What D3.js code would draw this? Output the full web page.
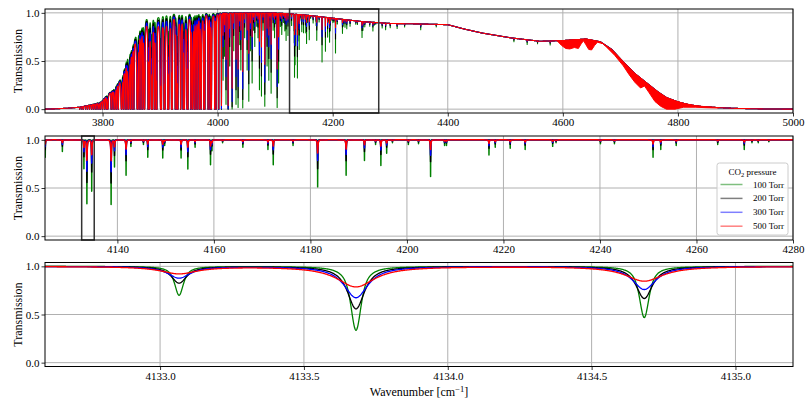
<!DOCTYPE html>
<html>
<head>
<meta charset="utf-8">
<script src="https://cdn.jsdelivr.net/npm/d3@7"></script>
<style>
  body { margin: 0; background: #fff; }
  #chart, #chart text { font-family: "Liberation Serif", "Times New Roman", Times, "DejaVu Serif", serif; }
</style>
</head>
<body>
<svg id="chart" width="805" height="401" font-family="Liberation Serif"></svg>
<script>
// ---- data ----
var pressures = [100, 200, 300, 500];
var seriesLabels = ["100 Torr", "200 Torr", "300 Torr", "500 Torr"];
var seriesColors = ["green", "black", "blue", "red"];
var serif = "Liberation Serif, Times New Roman, DejaVu Serif, serif";

// instrument envelope of the wide panel (upper edge of the traces)
var envNu = [3700, 3720, 3740, 3760, 3786, 3798, 3809, 3818, 3827, 3835,
             3844, 3850, 3858, 3867, 3876, 3888, 3899, 3908, 3950, 4000,
             4100, 4150, 4200, 4250, 4300, 4350, 4400, 4430, 4460, 4510,
             4560, 4600, 4640, 4665, 4685, 4705, 4725, 4745, 4765, 4780,
             4800, 4820, 4840, 4870, 4900, 4950, 5000];
var envT = [0, 0.004, 0.01, 0.02, 0.055, 0.08, 0.16, 0.2, 0.28, 0.36,
            0.57, 0.62, 0.78, 0.85, 0.95, 0.96, 0.98, 1.0, 1.0, 1.0,
            1.0, 0.98, 0.945, 0.91, 0.89, 0.885, 0.877, 0.83, 0.79, 0.74,
            0.705, 0.712, 0.728, 0.70, 0.62, 0.49, 0.37, 0.275, 0.18, 0.12,
            0.075, 0.045, 0.028, 0.016, 0.008, 0.002, 0];

// lower edge of the dense band only seen in the 500 Torr trace
var redBandNu = [4590, 4598, 4605, 4612, 4620, 4627, 4632, 4636, 4640, 4645,
                 4650, 4655, 4660, 4670, 4690, 4705, 4715, 4725, 4735, 4742,
                 4750, 4760, 4770, 4780, 4795, 4810, 4830, 4850, 4870];
var redBandT = [0.71, 0.66, 0.63, 0.625, 0.64, 0.63, 0.68, 0.71, 0.67, 0.62,
                0.615, 0.66, 0.695, 0.68, 0.56, 0.45, 0.36, 0.28, 0.22, 0.24,
                0.17, 0.08, 0.03, 0, 0, 0.02, 0.02, 0.015, 0.012];

// absorption lines: [wavenumber, peak optical depth at 100 Torr]
var bandLines = [
  [3760.5, 40], [3764.2, 25], [3767.0, 60], [3770.8, 30], [3774.1, 90], [3777.5, 45], [3780.9, 110],
  [3784.0, 35], [3787.2, 130], [3790.4, 50], [3793.8, 400], [3796.9, 40], [3800.2, 120], [3803.6, 70],
  [3806.5, 30], [3809.0, 600], [3815.0, 100], [3818.3, 45], [3821.5, 500], [3824.6, 60], [3827.5, 90],
  [3833.0, 800], [3836.2, 50], [3839.4, 120], [3842.4, 70], [3845.5, 900], [3848.8, 40], [3851.6, 100],
  [3854.5, 60], [3860.5, 1000], [3863.6, 45], [3866.8, 110], [3869.9, 70], [3873.0, 600], [3879.2, 130],
  [3881.0, 300], [3885.0, 700], [3886.6, 40], [3890.0, 120], [3893.1, 600], [3894.4, 35], [3901.0, 900],
  [3902.5, 60], [3907.0, 110], [3908.3, 400], [3913.2, 30], [3914.8, 800], [3919.9, 200], [3921.2, 110],
  [3926.4, 35], [3929.4, 700], [3930.9, 80], [3935.8, 250], [3940.0, 50], [3942.1, 600], [3947.0, 300],
  [3948.5, 100], [3953.4, 30], [3956.2, 500], [3959.4, 60], [3962.4, 150], [3965.6, 90], [3968.8, 40],
  [3971.5, 300], [3976.0, 80], [3977.8, 50], [3983.5, 120], [3986.8, 30], [3989.2, 200], [3994.8, 40],
  [3997.2, 60], [4002.0, 25], [4006.7, 15], [4009.5, 1.2], [4012.0, 0.6], [4014.6, 3], [4018.3, 15],
  [4021.0, 0.8], [4025.2, 7], [4028.0, 0.5], [4032.0, 3], [4035.6, 4], [4038.5, 0.4], [4040.4, 0.9],
  [4043.7, 4.3], [4047.0, 0.3], [4051.3, 0.9], [4054.2, 2.5], [4057.0, 0.5], [4060.0, 1.3], [4062.3, 0.2],
  [4064.6, 0.43], [4068.0, 0.15], [4070.2, 0.3], [4072.7, 1.6], [4076.2, 2.0], [4079.0, 0.2], [4082.0, 3.5],
  [4086.0, 0.8], [4089.0, 1.2], [4091.2, 0.15], [4093.0, 1.8], [4096.5, 0.2], [4099.0, 0.3],
  [4101.0, 0.12], [4103.5, 4], [4106.0, 1.3], [4109.0, 0.15], [4111.5, 0.25], [4114.3, 0.1],
  [4116.8, 0.2], [4119.0, 0.33], [4122.3, 0.26], [4124.0, 0.08]
];
var wingLines = [
  [4125.05, 0.20], [4128.6, 0.13], [4133.066, 0.357], [4133.681, 1.09], [4134.683, 0.76],
  [4138.7, 1.11], [4139.4, 0.33], [4141.8, 0.46], [4142.8, 0.07], [4145.4, 0.05], [4146.3, 0.20],
  [4149.4, 0.21], [4149.8, 0.06], [4153.2, 0.21], [4154.6, 0.36], [4156.1, 0.08], [4159.3, 0.30],
  [4159.6, 0.12], [4161.8, 0.03], [4166.0, 0.08], [4171.2, 0.105], [4172.3, 0.30], [4176.4, 0.06],
  [4181.5, 0.67], [4187.4, 0.46], [4191.2, 0.24], [4193.5, 0.05], [4194.6, 0.31], [4195.8, 0.15],
  [4197.0, 0.03], [4200.3, 0.05], [4202.4, 0.04], [4204.9, 0.48], [4207.8, 0.06], [4208.2, 0.06],
  [4217.0, 0.17], [4218.3, 0.08], [4221.4, 0.09], [4224.5, 0.105], [4230.2, 0.07], [4230.9, 0.03],
  [4240.1, 0.04], [4243.0, 0.04], [4251.0, 0.20], [4252.6, 0.105], [4255.8, 0.06], [4264.4, 0.05],
  [4269.9, 0.105], [4271.5, 0.03], [4272.8, 0.03], [4275.0, 0.02]
];
var weakLines = [
  [4286, 0.06], [4292, 0.08], [4300, 0.05], [4312, 0.06], [4325, 0.04], [4353, 0.07],
  [4380, 0.03], [4515, 0.05], [4538, 0.07], [4556, 0.04], [4578, 0.06]
];

// line shape widths (cm-1, FWHM)
var dopplerFWHM = 0.012;
var lorentzFWHM100 = 0.030;

// ---- layout ----
var svg = d3.select("#chart");
var plotLeft = 45, plotRight = 793;
var yDomain = [-0.04, 1.04];

var panels = [
  {top: 9, bottom: 113, domain: [3700, 5000], ticks: [3800, 4000, 4200, 4400, 4600, 4800, 5000],
   fmt: d3.format("d"), step: 0.25, env: true, box: [4125, 4280], lw: 1.1},
  {top: 136, bottom: 240, domain: [4125, 4280], ticks: [4140, 4160, 4180, 4200, 4220, 4240, 4260, 4280],
   fmt: d3.format("d"), step: 0.02, box: [4132.6, 4135.2], lw: 1.5},
  {top: 262.5, bottom: 366.5, domain: [4132.6, 4135.2], ticks: [4133.0, 4133.5, 4134.0, 4134.5, 4135.0],
   fmt: d3.format(".1f"), step: 0.002, lw: 1.3}
];

// ---- line model ----
function voigtParams(p) {
  var fG = dopplerFWHM, fL = lorentzFWHM100 * p / 100;
  var f = Math.pow(Math.pow(fG, 5) + 2.69269 * Math.pow(fG, 4) * fL + 2.42843 * Math.pow(fG, 3) * fL * fL +
          4.47163 * fG * fG * Math.pow(fL, 3) + 0.07842 * fG * Math.pow(fL, 4) + Math.pow(fL, 5), 0.2);
  var r = fL / f;
  return {f: f, eta: 1.36603 * r - 0.47719 * r * r + 0.11116 * r * r * r};
}
function profile(dx, v) {
  var hw = v.f / 2;
  var L = hw / (Math.PI * (dx * dx + hw * hw));
  var G = (2 / v.f) * Math.sqrt(Math.LN2 / Math.PI) * Math.exp(-4 * Math.LN2 * dx * dx / (v.f * v.f));
  return v.eta * L + (1 - v.eta) * G;
}

var allLines = bandLines.concat(wingLines, weakLines).sort(function(a, b) { return a[0] - b[0]; });
var lineNus = allLines.map(function(d) { return d[0]; });
var peakRef = profile(0, voigtParams(100));
var areas = allLines.map(function(d) { return d[1] / peakRef; });
var bis = d3.bisector(function(d) { return d; }).left;

function transmission(nus, p) {
  var v = voigtParams(p), cut = 8;
  return nus.map(function(nu) {
    var i0 = bis(lineNus, nu - cut), i1 = bis(lineNus, nu + cut), tau = 0;
    for (var i = i0; i < i1; i++) tau += areas[i] * profile(nu - lineNus[i], v);
    return Math.exp(-tau);
  });
}

var env = d3.scaleLinear().domain(envNu).range(envT).clamp(true);

function serifText(sel, size) {
  return sel.attr("font-family", serif).style("font-family", serif).style("font-size", size);
}

panels.forEach(function(P, pi) {
  var x = d3.scaleLinear().domain(P.domain).range([plotLeft, plotRight]);
  var y = d3.scaleLinear().domain(yDomain).range([P.bottom, P.top]);
  var g = svg.append("g");

  g.append("clipPath").attr("id", "clip" + pi)
    .append("rect").attr("x", plotLeft).attr("y", P.top)
    .attr("width", plotRight - plotLeft).attr("height", P.bottom - P.top);

  // grid
  g.selectAll(".gx").data(P.ticks).enter().append("line")
    .attr("x1", function(d) { return x(d); }).attr("x2", function(d) { return x(d); })
    .attr("y1", P.top).attr("y2", P.bottom)
    .style("stroke", "#b0b0b0").style("stroke-width", 1);
  g.selectAll(".gy").data([0, 0.5, 1]).enter().append("line")
    .attr("y1", function(d) { return y(d); }).attr("y2", function(d) { return y(d); })
    .attr("x1", plotLeft).attr("x2", plotRight)
    .style("stroke", "#b0b0b0").style("stroke-width", 1);

  // sample points: a regular grid plus every line centre in range
  var n = Math.round((P.domain[1] - P.domain[0]) / P.step);
  var nus = d3.range(n + 1).map(function(i) { return P.domain[0] + i * P.step; });
  lineNus.forEach(function(c) { if (c > P.domain[0] && c < P.domain[1]) nus.push(c); });
  nus.sort(function(a, b) { return a - b; });

  var traces = g.append("g").attr("clip-path", "url(#clip" + pi + ")");
  pressures.forEach(function(p, si) {
    var T = transmission(nus, p);
    var pts = nus.map(function(nu, i) { return [nu, P.env ? env(nu) * T[i] : T[i]]; });
    if (P.env && si === 3) {
      var band = redBandNu.map(function(nu, i) { return [nu, redBandT[i]]; });
      traces.append("path").datum(band)
        .attr("d", d3.area().x(function(d) { return x(d[0]); })
          .y0(function(d) { return y(d[1]); })
          .y1(function(d) { return y(env(d[0])); }))
        .style("fill", "red").style("stroke", "red").style("stroke-width", 1);
    }
    traces.append("path").datum(pts)
      .attr("d", d3.line().x(function(d) { return x(d[0]); }).y(function(d) { return y(d[1]); }))
      .style("fill", "none").style("stroke", seriesColors[si])
      .style("stroke-width", P.lw).style("stroke-linejoin", "round");
  });

  // zoom window box
  if (P.box) {
    g.append("rect").attr("x", x(P.box[0])).attr("y", P.top)
      .attr("width", x(P.box[1]) - x(P.box[0])).attr("height", P.bottom - P.top)
      .style("fill", "none").style("stroke", "#333").style("stroke-width", 1.5);
  }

  // frame
  g.append("rect").attr("x", plotLeft).attr("y", P.top)
    .attr("width", plotRight - plotLeft).attr("height", P.bottom - P.top)
    .style("fill", "none").style("stroke", "#000").style("stroke-width", 1);

  var xAxis = g.append("g").attr("transform", "translate(0," + P.bottom + ")")
    .call(d3.axisBottom(x).tickValues(P.ticks).tickFormat(P.fmt).tickSize(3.5).tickPadding(2));
  var yAxis = g.append("g").attr("transform", "translate(" + plotLeft + ",0)")
    .call(d3.axisLeft(y).tickValues([0, 0.5, 1]).tickFormat(d3.format(".1f")).tickSize(3.5).tickPadding(2));
  [xAxis, yAxis].forEach(function(a) {
    a.attr("font-family", serif);
    a.select(".domain").remove();
    a.selectAll(".tick line").style("stroke", "#000").style("stroke-width", 0.8);
    serifText(a.selectAll(".tick text"), "11px").style("fill", "#000");
  });

  serifText(g.append("text"), "12px")
    .attr("transform", "translate(18," + ((P.top + P.bottom) / 2) + ") rotate(-90)")
    .attr("text-anchor", "middle").attr("dominant-baseline", "central")
    .text("Transmission");
});

// x label
var xl = serifText(svg.append("text"), "12px")
  .attr("x", (plotLeft + plotRight) / 2).attr("y", 396).attr("text-anchor", "middle");
xl.append("tspan").text("Wavenumber [cm");
xl.append("tspan").attr("dy", -4).style("font-size", "8.5px").text("\u22121");
xl.append("tspan").attr("dy", 4).text("]");

// legend
var lg = svg.append("g");
lg.append("rect").attr("x", 717).attr("y", 163).attr("width", 71).attr("height", 72)
  .attr("rx", 2.5).style("fill", "#fff").style("fill-opacity", 0.8)
  .style("stroke", "#cccccc").style("stroke-width", 1);
var lt = serifText(lg.append("text"), "9px").attr("x", 752.5).attr("y", 174.5).attr("text-anchor", "middle");
lt.append("tspan").text("CO");
lt.append("tspan").attr("dy", 2).style("font-size", "6.5px").text("2");
lt.append("tspan").attr("dy", -2).text(" pressure");
seriesLabels.forEach(function(s, i) {
  var yy = 184.5 + i * 13.9;
  lg.append("line").attr("x1", 720.5).attr("x2", 742.5).attr("y1", yy).attr("y2", yy)
    .style("stroke", seriesColors[i]).style("stroke-opacity", 0.5).style("stroke-width", 1.5);
  serifText(lg.append("text"), "9px").attr("x", 784).attr("y", yy + 3).attr("text-anchor", "end").text(s);
});
</script>
</body>
</html>
